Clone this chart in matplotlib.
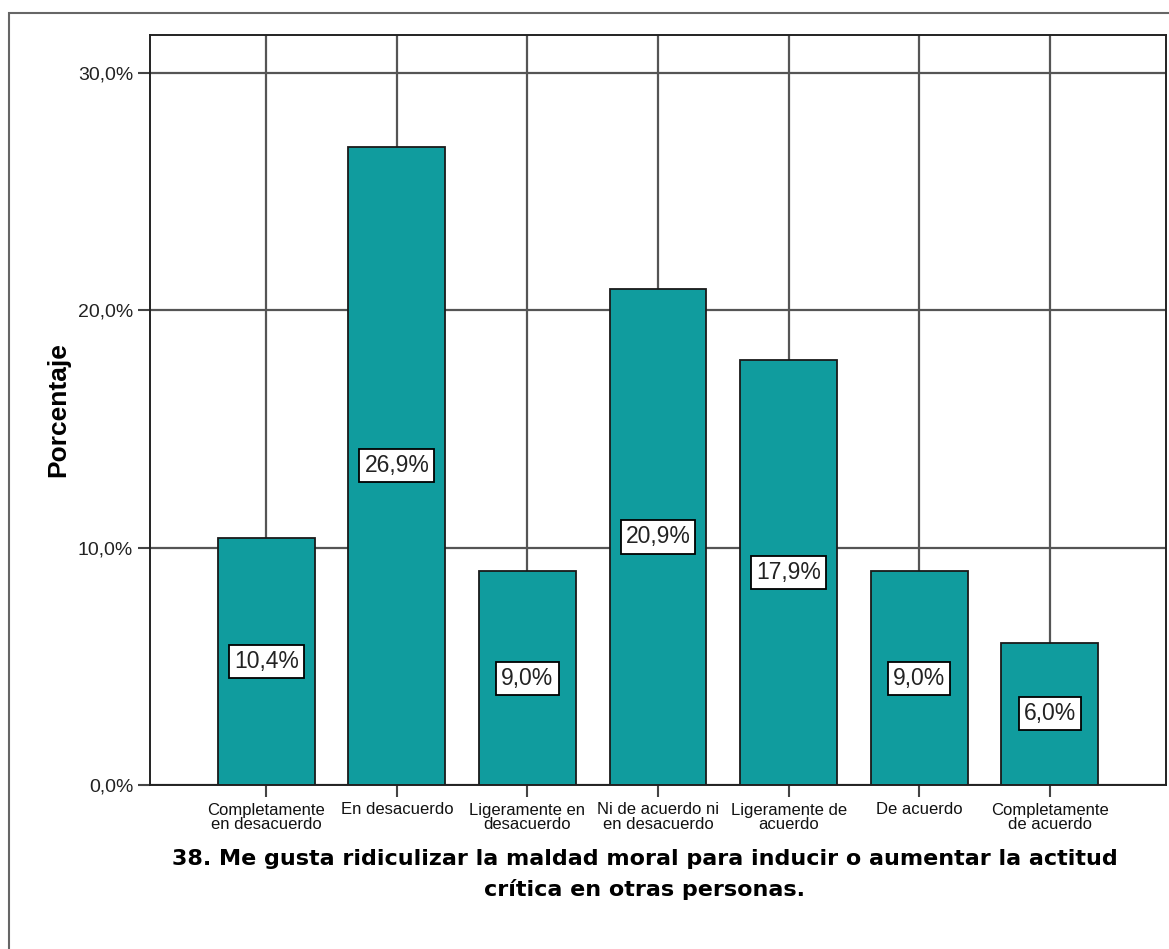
import numpy as np
import matplotlib.pyplot as plt
from matplotlib.patches import Rectangle

# Response categories and percentages
categories = ["Completamente\nen desacuerdo", "En desacuerdo", "Ligeramente en\ndesacuerdo",
              "Ni de acuerdo ni\nen desacuerdo", "Ligeramente de\nacuerdo", "De acuerdo",
              "Completamente\nde acuerdo"]
percent = [10.4, 26.9, 9.0, 20.9, 17.9, 9.0, 6.0]
yticks = [0, 10, 20, 30]
ytick_labels = ["0,0%", "10,0%", "20,0%", "30,0%"]
title_lines = ["38. Me gusta ridiculizar la maldad moral para inducir o aumentar la actitud",
               "crítica en otras personas."]

bar_color = "#109c9e"
W, H = 1169, 949

fig = plt.figure(figsize=(W / 100, H / 100), dpi=100)
# outer frame like the SPSS chart window
fig.patches.append(Rectangle((9 / W, -0.01), 1.0, 1 - 13 / H + 0.01, transform=fig.transFigure,
                             fill=False, edgecolor="#666666", linewidth=1.5))

ax = fig.add_axes([150 / W, 1 - 785 / H, (1166 - 150) / W, (785 - 35) / H])
x = np.arange(len(categories))
ax.set_axisbelow(True)
ax.grid(True, color="#555555", linewidth=1.6)
ax.bar(x, percent, width=0.74, color=bar_color, edgecolor="#1a1a1a", linewidth=1.3, zorder=2)

for xi, v in zip(x, percent):
    ax.text(xi, v / 2, f"{v:.1f}%".replace(".", ","), ha="center", va="center", fontsize=16.5,
            family="Liberation Sans", color="#222222", zorder=3,
            bbox=dict(boxstyle="square,pad=0.22", facecolor="white", edgecolor="black", linewidth=1.3))

ax.set_xlim(-0.89, len(categories) - 1 + 0.89)
ax.set_ylim(0, 31.6)
ax.set_yticks(yticks)
ax.set_yticklabels(ytick_labels, fontsize=14, family="Liberation Sans", color="#222222")
ax.set_xticks(x)
ax.set_xticklabels(categories, fontsize=12, family="Liberation Sans", linespacing=0.95, color="#111111")
ax.tick_params(axis="both", direction="out", length=8.6, width=1.5, color="#444444")
ax.tick_params(axis="y", pad=3.5)
ax.tick_params(axis="x", pad=4)
for s in ax.spines.values():
    s.set_linewidth(1.4)
    s.set_color("#222222")

fig.text(58 / W, 1 - 410 / H, "Porcentaje", rotation=90, ha="center", va="center",
         fontsize=19, fontweight="bold", family="Liberation Sans")
fig.text(645 / W, 1 - 859 / H, title_lines[0], ha="center", va="center",
         fontsize=16, fontweight="bold", family="DejaVu Sans")
fig.text(645 / W, 1 - 889 / H, title_lines[1], ha="center", va="center",
         fontsize=16, fontweight="bold", family="DejaVu Sans")

fig.savefig("out.png", dpi=100)
